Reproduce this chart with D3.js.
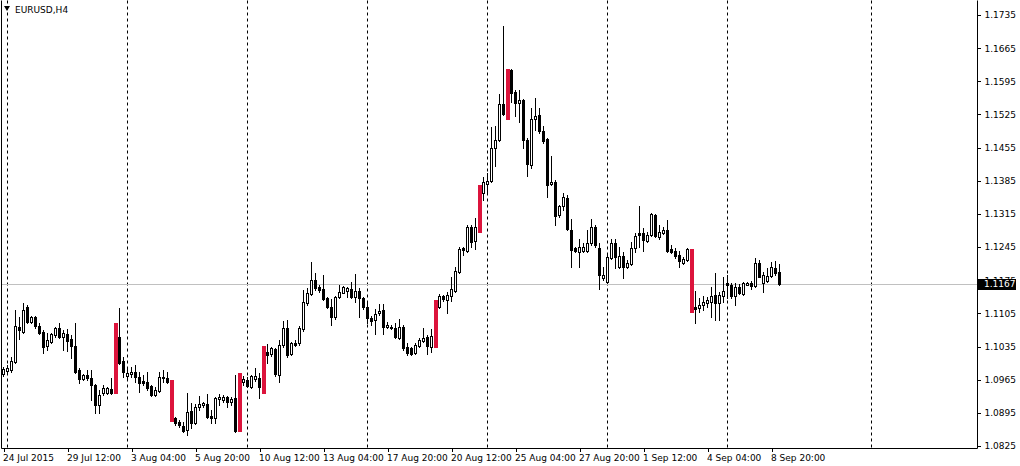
<!DOCTYPE html>
<html><head><meta charset="utf-8">
<script src="https://cdn.jsdelivr.net/npm/d3@7"></script>
<style>body{margin:0;background:#fff;overflow:hidden;} svg{display:block;}</style>
</head><body>
<script>
const symbol = "EURUSD,H4";
const openP = [1.0977,1.0983,1.0985,1.1002,1.1076,1.1066,1.1118,1.1087,1.1097,1.1078,
1.1066,1.1036,1.1045,1.1059,1.1074,1.1055,1.1061,1.1051,1.1036,1.0985,
1.0966,1.0975,1.0969,1.0954,1.0912,1.0937,1.0937,1.0945,1.0937,1.1055,
1.1004,1.0973,1.0977,1.0981,1.0971,1.0962,1.0960,1.0952,1.0933,1.0941,
1.0969,1.0969,1.0964,1.0884,1.0876,1.0867,1.0859,1.0899,1.0874,1.0907,
1.0912,1.0913,1.0888,1.0884,1.0924,1.0922,1.0928,1.0918,1.0926,1.0857,
1.0960,1.0964,1.0950,1.0966,1.0969,1.0937,1.1023,1.1019,1.1030,1.0975,
1.1038,1.1074,1.1019,1.1042,1.1042,1.1072,1.1127,1.1146,1.1175,1.1161,
1.1156,1.1137,1.1118,1.1097,1.1140,1.1148,1.1152,1.1156,1.1140,1.1152,
1.1137,1.1118,1.1095,1.1091,1.1106,1.1112,1.1076,1.1077,1.1074,1.1053,
1.1076,1.1034,1.1032,1.1021,1.1036,1.1047,1.1055,1.1034,1.1034,1.1118,
1.1142,1.1133,1.1142,1.1152,1.1192,1.1243,1.1237,1.1287,1.1258,1.1277,
1.1359,1.1378,1.1385,1.1454,1.1471,1.1547,1.1515,1.1619,1.1572,1.1549,
1.1556,1.1471,1.1418,1.1515,1.1524,1.1490,1.1473,1.1378,1.1382,1.1313,
1.1332,1.1349,1.1281,1.1243,1.1234,1.1237,1.1237,1.1254,1.1287,1.1243,
1.1180,1.1171,1.1222,1.1254,1.1203,1.1226,1.1203,1.1209,1.1243,1.1275,
1.1275,1.1258,1.1270,1.1313,1.1266,1.1275,1.1281,1.1241,1.1237,1.1228,
1.1211,1.1218,1.1241,1.1118,1.1116,1.1123,1.1127,1.1129,1.1144,1.1127,
1.1142,1.1169,1.1165,1.1142,1.1161,1.1146,1.1165,1.1169,1.1163,1.1211,
1.1169,1.1173,1.1184,1.1201,1.1192];
const highP = [1.0992,1.0996,1.1013,1.1112,1.1097,1.1127,1.1123,1.1099,1.1099,1.1085,
1.1070,1.1064,1.1064,1.1076,1.1085,1.1070,1.1072,1.1059,1.1085,1.0990,
1.0977,1.0985,1.0985,1.0956,1.0943,1.0954,1.0950,1.0969,1.1086,1.1116,
1.1013,1.0990,1.0992,1.0996,1.0981,1.0975,1.0981,1.0954,1.0950,1.0981,
1.0985,1.0981,1.0965,1.0886,1.0880,1.0876,1.0937,1.0916,1.0913,1.0931,
1.0918,1.0935,1.0901,1.0928,1.0935,1.0933,1.0931,1.0928,1.0975,1.0980,
1.0973,1.0971,1.0975,1.0990,1.0979,1.1037,1.1040,1.1034,1.1032,1.1049,
1.1089,1.1091,1.1045,1.1049,1.1078,1.1154,1.1159,1.1213,1.1190,1.1165,
1.1186,1.1140,1.1135,1.1142,1.1165,1.1162,1.1161,1.1171,1.1188,1.1159,
1.1140,1.1127,1.1099,1.1114,1.1125,1.1125,1.1087,1.1080,1.1085,1.1093,
1.1080,1.1042,1.1034,1.1042,1.1053,1.1074,1.1059,1.1072,1.1134,1.1146,
1.1144,1.1150,1.1182,1.1203,1.1245,1.1245,1.1292,1.1292,1.1306,1.1377,
1.1393,1.1401,1.1499,1.1501,1.1568,1.1712,1.1622,1.1621,1.1577,1.1577,
1.1558,1.1475,1.1539,1.1560,1.1539,1.1501,1.1475,1.1437,1.1387,1.1334,
1.1359,1.1355,1.1304,1.1245,1.1262,1.1254,1.1281,1.1304,1.1292,1.1254,
1.1203,1.1228,1.1262,1.1262,1.1245,1.1234,1.1218,1.1256,1.1275,1.1332,
1.1285,1.1277,1.1317,1.1315,1.1292,1.1287,1.1302,1.1249,1.1243,1.1237,
1.1224,1.1243,1.1242,1.1152,1.1137,1.1142,1.1140,1.1161,1.1190,1.1150,
1.1182,1.1186,1.1169,1.1169,1.1167,1.1171,1.1171,1.1173,1.1222,1.1218,
1.1192,1.1201,1.1213,1.1216,1.1209];
const lowP = [1.0973,1.0979,1.0981,1.1000,1.1051,1.1064,1.1085,1.1085,1.1074,1.1061,
1.1021,1.1028,1.1042,1.1055,1.1053,1.1028,1.1026,1.1011,1.0979,1.0958,
1.0964,1.0964,1.0922,1.0895,1.0895,1.0933,1.0935,1.0935,1.0936,1.0998,
1.0971,1.0964,1.0971,1.0960,1.0939,1.0954,1.0943,1.0931,1.0931,1.0939,
1.0960,1.0959,1.0877,1.0869,1.0865,1.0855,1.0848,1.0863,1.0872,1.0901,
1.0907,1.0884,1.0874,1.0874,1.0912,1.0918,1.0907,1.0912,1.0855,1.0855,
1.0954,1.0950,1.0947,1.0962,1.0926,1.0936,1.1000,1.1015,1.0973,1.0960,
1.1034,1.1013,1.1017,1.1036,1.1038,1.1068,1.1123,1.1144,1.1154,1.1150,
1.1133,1.1116,1.1080,1.1093,1.1137,1.1147,1.1140,1.1137,1.1129,1.1097,
1.1114,1.1085,1.1080,1.1061,1.1102,1.1061,1.1074,1.1072,1.1053,1.1051,
1.1028,1.1017,1.1017,1.1019,1.1034,1.1045,1.1019,1.1023,1.1033,1.1116,
1.1131,1.1106,1.1131,1.1150,1.1190,1.1228,1.1234,1.1245,1.1241,1.1276,
1.1344,1.1361,1.1382,1.1416,1.1469,1.1524,1.1514,1.1551,1.1522,1.1509,
1.1454,1.1395,1.1412,1.1492,1.1486,1.1465,1.1351,1.1376,1.1292,1.1308,
1.1323,1.1281,1.1203,1.1234,1.1203,1.1234,1.1234,1.1249,1.1245,1.1156,
1.1175,1.1169,1.1220,1.1201,1.1201,1.1180,1.1201,1.1207,1.1234,1.1245,
1.1237,1.1256,1.1268,1.1266,1.1262,1.1273,1.1234,1.1233,1.1222,1.1203,
1.1209,1.1216,1.1107,1.1085,1.1108,1.1112,1.1118,1.1097,1.1091,1.1091,
1.1129,1.1137,1.1137,1.1123,1.1146,1.1144,1.1164,1.1156,1.1161,1.1181,
1.1150,1.1171,1.1182,1.1186,1.1165];
const closeP = [1.0988,1.0990,1.1004,1.1078,1.1070,1.1112,1.1087,1.1097,1.1078,1.1064,
1.1034,1.1049,1.1061,1.1074,1.1055,1.1064,1.1047,1.1036,1.0981,1.0966,
1.0975,1.0969,1.0954,1.0912,1.0933,1.0947,1.0948,1.0937,1.1085,1.1000,
1.0981,1.0979,1.0981,1.0971,1.0958,1.0958,1.0947,1.0933,1.0943,1.0971,
1.0971,1.0960,1.0878,1.0874,1.0869,1.0857,1.0897,1.0874,1.0907,1.0913,
1.0916,1.0886,1.0884,1.0926,1.0928,1.0928,1.0918,1.0924,1.0857,1.0979,
1.0966,1.0952,1.0973,1.0973,1.0950,1.1036,1.1017,1.1032,1.0977,1.1038,
1.1074,1.1017,1.1042,1.1038,1.1074,1.1129,1.1148,1.1175,1.1159,1.1154,
1.1135,1.1118,1.1097,1.1140,1.1150,1.1161,1.1159,1.1140,1.1152,1.1137,
1.1118,1.1095,1.1089,1.1104,1.1110,1.1076,1.1080,1.1074,1.1055,1.1076,
1.1032,1.1021,1.1019,1.1038,1.1049,1.1053,1.1036,1.1057,1.1133,1.1142,
1.1135,1.1144,1.1156,1.1194,1.1241,1.1239,1.1287,1.1256,1.1287,1.1376,
1.1382,1.1385,1.1454,1.1471,1.1547,1.1526,1.1621,1.1570,1.1549,1.1556,
1.1471,1.1420,1.1515,1.1522,1.1490,1.1469,1.1376,1.1382,1.1311,1.1332,
1.1351,1.1283,1.1239,1.1237,1.1245,1.1245,1.1254,1.1287,1.1249,1.1186,
1.1186,1.1224,1.1254,1.1224,1.1226,1.1203,1.1211,1.1243,1.1268,1.1270,
1.1260,1.1270,1.1315,1.1268,1.1277,1.1281,1.1237,1.1234,1.1226,1.1216,
1.1220,1.1241,1.1108,1.1114,1.1123,1.1129,1.1133,1.1142,1.1127,1.1144,
1.1152,1.1165,1.1142,1.1161,1.1148,1.1169,1.1169,1.1163,1.1211,1.1182,
1.1186,1.1184,1.1203,1.1190,1.1167];
const highlightBars = [28, 42, 59, 65, 108, 119, 126, 172];
const priceTicks = [1.1735,1.1665,1.1595,1.1525,1.1455,1.1385,1.1315,1.1245,1.1175,1.1105,1.1035,1.0965,1.0895,1.0825];
const timeLabelBars = [0,16,32,48,64,80,96,112,128,144,160,176,192];
const timeLabels = ["24 Jul 2015","29 Jul 12:00","3 Aug 04:00","5 Aug 20:00","10 Aug 12:00","13 Aug 04:00","17 Aug 20:00","20 Aug 12:00","25 Aug 04:00","27 Aug 20:00","1 Sep 12:00","4 Sep 04:00","8 Sep 20:00"];
const separatorBars = [1,31,61,91,121,151,181,217];
const lastPrice = 1.1167;

const W = 1020, H = 466;
const plot = {left: 1.5, right: 977.5, top: 0.5, bottom: 448.5};
const svg = d3.select("body").append("svg").attr("width", W).attr("height", H)
  .style("font-family", "Tahoma, 'DejaVu Sans', sans-serif");

const n = openP.length;
const x = d3.scaleLinear().domain([0, n - 1]).range([3.5, 3.5 + 4 * (n - 1)]);
const y = d3.scaleLinear().domain([1.0825, 1.1735]).range([446, 15]);
const py = v => Math.round(y(v)) + 0.5;

// separators
svg.append("g").selectAll("line").data(separatorBars).join("line")
  .attr("x1", d => x(d)).attr("x2", d => x(d))
  .attr("y1", plot.top).attr("y2", plot.bottom)
  .attr("stroke", "#000").attr("stroke-width", 1).attr("stroke-dasharray", "3,3");

// last price line
svg.append("line").attr("x1", plot.left).attr("x2", plot.right)
  .attr("y1", py(lastPrice)).attr("y2", py(lastPrice))
  .attr("stroke", "#c0c0c0").attr("stroke-width", 1);

const bars = d3.range(n).map(i => ({i, o: openP[i], h: highP[i], l: lowP[i], c: closeP[i], hl: highlightBars.includes(i)}));
const g = svg.append("g").attr("shape-rendering", "crispEdges");
// wicks
g.selectAll("line.wick").data(bars.filter(d => !d.hl)).join("line").attr("class", "wick")
  .attr("x1", d => x(d.i)).attr("x2", d => x(d.i))
  .attr("y1", d => Math.round(y(d.h))).attr("y2", d => Math.round(y(d.l)) + 1)
  .attr("stroke", "#000");
// bodies
g.selectAll("rect.body").data(bars.filter(d => !d.hl)).join("rect").attr("class", "body")
  .each(function(d) {
    const top = Math.round(y(Math.max(d.o, d.c)));
    const bot = Math.round(y(Math.min(d.o, d.c)));
    const s = d3.select(this);
    if (d.c >= d.o) {
      s.attr("x", x(d.i) - 1).attr("y", top + 0.5).attr("width", 2).attr("height", Math.max(bot - top, 0))
       .attr("fill", "#fff").attr("stroke", "#000");
    } else {
      s.attr("x", x(d.i) - 1.5).attr("y", top).attr("width", 3).attr("height", Math.max(bot - top + 1, 1))
       .attr("fill", "#000");
    }
  });
// highlighted bars
g.selectAll("rect.hl").data(bars.filter(d => d.hl)).join("rect").attr("class", "hl")
  .attr("x", d => x(d.i) - 1.5).attr("width", 4)
  .attr("y", d => Math.round(y(Math.max(d.o, d.c))))
  .attr("height", d => Math.round(y(Math.min(d.o, d.c))) - Math.round(y(Math.max(d.o, d.c))) + 1)
  .attr("fill", "#dc143c");

// frame
svg.append("path")
  .attr("d", `M${plot.left},${plot.top}V${plot.bottom}H${plot.right}V${plot.top}`)
  .attr("fill", "none").attr("stroke", "#000");

// right axis
const yAxis = d3.axisRight(y).tickValues(priceTicks).tickSize(3).tickPadding(4).tickFormat(d3.format(".4f"));
const ya = svg.append("g").attr("transform", `translate(${plot.right},0)`).call(yAxis);
ya.select(".domain").remove();
ya.selectAll("line").attr("stroke", "#000").attr("shape-rendering", "crispEdges");
ya.selectAll("text").attr("fill", "#000").style("font-size", "9px").style("font-family", "Tahoma, 'DejaVu Sans', sans-serif");

// bottom axis
const xAxis = d3.axisBottom(x).tickValues(timeLabelBars).tickSize(3).tickPadding(3)
  .tickFormat((d, k) => timeLabels[k]);
const xa = svg.append("g").attr("transform", `translate(0,${plot.bottom})`).call(xAxis);
xa.select(".domain").remove();
xa.selectAll("line").attr("stroke", "#000").attr("shape-rendering", "crispEdges");
xa.selectAll("text").attr("fill", "#000").attr("text-anchor", "start").attr("dx", "-1")
  .style("font-size", "9px").style("font-family", "Tahoma, 'DejaVu Sans', sans-serif");

// last price tag
const ly = y(lastPrice);
svg.append("rect").attr("x", 978).attr("y", Math.round(ly) - 5).attr("width", 38).attr("height", 11).attr("fill", "#000");
svg.append("text").attr("x", 984).attr("y", ly).attr("dy", "0.35em").attr("fill", "#fff")
  .style("font-size", "9px").text(d3.format(".4f")(lastPrice));

// title
svg.append("path").attr("d", "M4,6 L10,6 L7,11 Z").attr("fill", "#000");
svg.append("text").attr("x", 15).attr("y", 13).attr("fill", "#000").style("font-size", "9px").text(symbol);
</script>
</body></html>
